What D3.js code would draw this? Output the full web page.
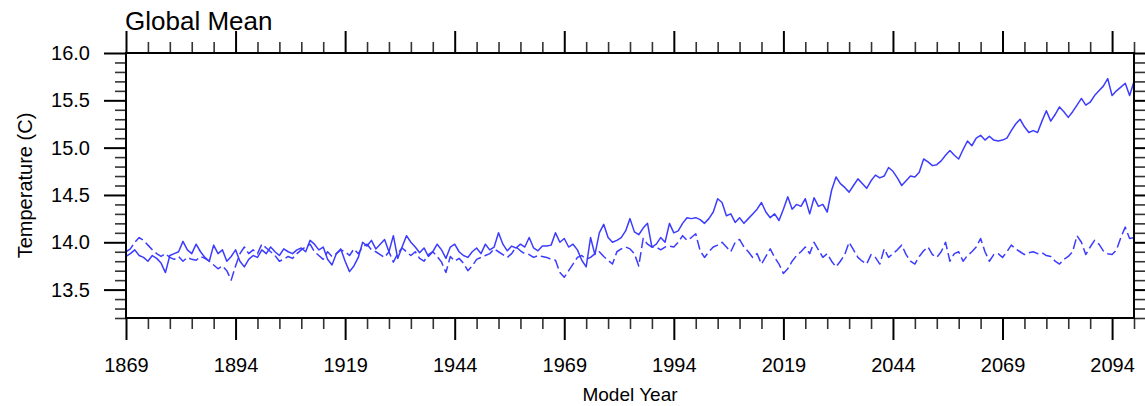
<!DOCTYPE html>
<html><head><meta charset="utf-8">
<script src="https://cdn.jsdelivr.net/npm/d3@7"></script>
<style>
html,body{margin:0;padding:0;background:#fff;}
svg{display:block;font-family:"Liberation Sans",Arial,Helvetica,sans-serif;}
</style></head>
<body>
<svg id="chart" width="1145" height="406"></svg>
<script>
const startYear = 1869;
const endYear = 2099;
const title = "Global Mean";
const xTitle = "Model Year";
const yTitle = "Temperature (C)";
const xMajorTicks = [1869, 1894, 1919, 1944, 1969, 1994, 2019, 2044, 2069, 2094];
const yMajorTicks = [13.5, 14.0, 14.5, 15.0, 15.5, 16.0];
const yDomain = [13.2, 16.0];

// Solid series (scenario run), one value per year 1869..2099
const scenario = [
13.85,13.88,13.92,13.86,13.84,13.80,13.86,13.83,13.78,13.68,
13.86,13.88,13.90,14.01,13.92,13.88,13.98,13.90,13.84,13.80,
13.97,13.88,13.92,13.80,13.85,13.92,13.80,13.74,13.82,13.86,
13.84,13.92,13.88,13.95,13.90,13.86,13.93,13.90,13.88,13.92,
13.94,13.90,14.02,13.98,13.92,13.95,13.82,13.76,13.88,13.93,
13.80,13.69,13.75,13.84,14.00,13.96,14.02,13.93,13.98,14.03,
13.90,14.07,13.83,13.95,14.07,14.00,13.95,13.89,13.94,13.85,
13.90,13.98,13.92,13.83,13.95,13.98,13.90,13.86,13.84,13.90,
13.94,13.88,13.98,13.92,13.95,14.10,13.98,13.91,13.96,13.94,
13.98,13.95,14.05,13.94,13.91,13.96,13.96,13.97,14.10,14.00,
14.04,13.95,13.98,13.92,13.81,13.74,14.05,13.87,14.10,14.19,
14.05,14.00,14.02,14.05,14.12,14.25,14.11,14.08,14.15,14.20,
13.95,13.98,14.05,14.00,14.20,14.10,14.12,14.20,14.26,14.25,
14.26,14.24,14.20,14.25,14.32,14.46,14.42,14.28,14.30,14.21,
14.26,14.20,14.25,14.30,14.35,14.42,14.32,14.26,14.30,14.23,
14.35,14.48,14.35,14.40,14.38,14.46,14.30,14.47,14.38,14.40,
14.32,14.55,14.69,14.62,14.58,14.53,14.60,14.67,14.62,14.57,
14.65,14.71,14.68,14.70,14.79,14.75,14.68,14.60,14.65,14.70,
14.69,14.74,14.88,14.85,14.81,14.82,14.86,14.92,14.97,14.92,
14.88,14.98,15.07,15.02,15.10,15.13,15.08,15.12,15.08,15.07,
15.08,15.10,15.18,15.25,15.30,15.22,15.16,15.18,15.16,15.28,
15.39,15.28,15.35,15.43,15.38,15.32,15.38,15.45,15.52,15.45,
15.48,15.55,15.60,15.65,15.73,15.55,15.60,15.64,15.68,15.55,
15.70
];

// Dashed series (control run), one value per year 1869..2099
const control = [
13.90,13.93,14.00,14.05,14.02,13.97,13.92,13.88,13.85,13.88,
13.84,13.82,13.85,13.80,13.84,13.82,13.81,13.85,13.83,13.80,
13.76,13.72,13.75,13.70,13.60,13.75,13.88,13.95,13.88,13.92,
13.88,13.98,13.94,13.90,13.86,13.80,13.82,13.85,13.83,13.88,
13.92,13.95,13.98,13.90,13.86,13.82,13.90,13.85,13.88,13.92,
13.90,13.86,13.93,13.88,13.95,13.98,13.92,13.90,13.87,13.84,
13.90,13.79,13.88,13.94,13.90,13.86,13.90,13.83,13.80,13.87,
13.90,13.85,13.79,13.68,13.85,13.80,13.83,13.78,13.70,13.75,
13.82,13.84,13.86,13.88,13.93,13.90,13.87,13.84,13.88,13.95,
13.91,13.88,13.87,13.84,13.86,13.85,13.84,13.82,13.81,13.68,
13.63,13.70,13.77,13.84,13.86,13.82,13.84,13.88,13.90,13.85,
13.81,13.77,13.90,13.93,13.95,13.93,13.88,13.75,14.04,13.98,
13.95,13.95,13.92,13.95,13.96,13.95,14.00,14.07,14.02,14.05,
14.09,13.91,13.84,13.90,13.95,13.97,14.00,13.95,13.90,14.00,
14.03,13.95,13.90,13.84,13.88,13.77,13.85,13.93,13.84,13.77,
13.67,13.72,13.80,13.86,13.90,13.95,13.88,14.00,13.92,13.84,
13.88,13.80,13.74,13.80,13.87,14.00,13.92,13.84,13.80,13.77,
13.87,13.84,13.77,13.93,13.84,13.88,13.92,13.97,13.87,13.80,
13.77,13.85,13.91,13.95,13.87,13.84,13.90,14.00,13.80,13.88,
13.90,13.80,13.86,13.90,13.95,14.04,13.90,13.80,13.87,13.88,
13.84,13.90,13.97,13.93,13.90,13.87,13.89,13.90,13.88,13.89,
13.86,13.85,13.80,13.77,13.82,13.85,13.90,14.07,14.00,13.87,
13.95,14.02,13.98,13.91,13.88,13.87,13.92,14.05,14.16,14.04,
14.05
];

const years = d3.range(startYear, endYear + 1);

const svg = d3.select("#chart");
const margin = {left: 126, right: 1145 - 1134, top: 53, bottom: 406 - 318};
const W = 1145, H = 406;
const x = d3.scaleLinear().domain([startYear, endYear]).range([margin.left, W - margin.right]);
const y = d3.scaleLinear().domain(yDomain).range([H - margin.bottom, margin.top]);

const xMinor = d3.range(startYear, endYear + 1, 5).filter(v => !xMajorTicks.includes(v));
const yMinor = d3.range(132, 161, 1).map(v => v / 10).filter(v => !yMajorTicks.some(m => Math.abs(m - v) < 1e-6));

const lineColor = "#3c3cff";

svg.append("clipPath").attr("id", "clip").append("rect")
  .attr("x", x.range()[0]).attr("y", y.range()[1])
  .attr("width", x.range()[1] - x.range()[0]).attr("height", y.range()[0] - y.range()[1]);

const line = d3.line().x((d, i) => x(years[i])).y(d => y(d));
const g = svg.append("g").attr("clip-path", "url(#clip)");
g.append("path").datum(control).attr("d", line)
  .attr("fill", "none").attr("stroke", lineColor).attr("stroke-width", 1.5)
  .attr("stroke-dasharray", "10,4").attr("stroke-linejoin", "round");
g.append("path").datum(scenario).attr("d", line)
  .attr("fill", "none").attr("stroke", lineColor).attr("stroke-width", 1.5)
  .attr("stroke-linejoin", "round");

function styleAxis(sel, w, c) {
  sel.select(".domain").remove();
  sel.selectAll(".tick line").attr("stroke", c || "#000").attr("stroke-width", w);
}

const fmtY = d3.format(".1f");
const minorColor = "#333";
svg.append("g").attr("transform", `translate(0,${y.range()[0]})`)
  .call(d3.axisBottom(x).tickValues(xMajorTicks).tickSize(22).tickFormat(d3.format("d")).tickPadding(18))
  .call(s => styleAxis(s, 2))
  .call(s => s.selectAll("text").attr("font-size", 20).attr("fill", "#000").attr("font-family", "Liberation Sans, Arial, sans-serif"));
svg.append("g").attr("transform", `translate(0,${y.range()[0]})`)
  .call(d3.axisBottom(x).tickValues(xMinor).tickSize(11).tickFormat(""))
  .call(s => styleAxis(s, 1.6, minorColor));
svg.append("g").attr("transform", `translate(0,${y.range()[1]})`)
  .call(d3.axisTop(x).tickValues(xMajorTicks).tickSize(22).tickFormat(""))
  .call(s => styleAxis(s, 2));
svg.append("g").attr("transform", `translate(0,${y.range()[1]})`)
  .call(d3.axisTop(x).tickValues(xMinor).tickSize(11).tickFormat(""))
  .call(s => styleAxis(s, 1.6, minorColor));
svg.append("g").attr("transform", `translate(${x.range()[0]},0)`)
  .call(d3.axisLeft(y).tickValues(yMajorTicks).tickSize(22).tickFormat(fmtY).tickPadding(14))
  .call(s => styleAxis(s, 2))
  .call(s => s.selectAll("text").attr("font-size", 20).attr("fill", "#000").attr("font-family", "Liberation Sans, Arial, sans-serif"));
svg.append("g").attr("transform", `translate(${x.range()[0]},0)`)
  .call(d3.axisLeft(y).tickValues(yMinor).tickSize(11).tickFormat(""))
  .call(s => styleAxis(s, 1.6, minorColor));
svg.append("g").attr("transform", `translate(${x.range()[1]},0)`)
  .call(d3.axisRight(y).tickValues(yMajorTicks).tickSize(22).tickFormat(""))
  .call(s => styleAxis(s, 2));
svg.append("g").attr("transform", `translate(${x.range()[1]},0)`)
  .call(d3.axisRight(y).tickValues(yMinor).tickSize(11).tickFormat(""))
  .call(s => styleAxis(s, 1.6, minorColor));

svg.append("rect")
  .attr("x", x.range()[0]).attr("y", y.range()[1])
  .attr("width", x.range()[1] - x.range()[0]).attr("height", y.range()[0] - y.range()[1])
  .attr("fill", "none").attr("stroke", "#000").attr("stroke-width", 2);

svg.append("text").attr("x", 125).attr("y", 30).attr("font-size", 26).attr("fill", "#000").text(title);
svg.append("text").attr("x", (x.range()[0] + x.range()[1]) / 2).attr("y", 401)
  .attr("text-anchor", "middle").attr("font-size", 19).attr("fill", "#000").text(xTitle);
svg.append("text").attr("transform", `translate(32,${(y.range()[0] + y.range()[1]) / 2}) rotate(-90)`)
  .attr("text-anchor", "middle").attr("font-size", 20).attr("fill", "#000").text(yTitle);
</script>
</body></html>
